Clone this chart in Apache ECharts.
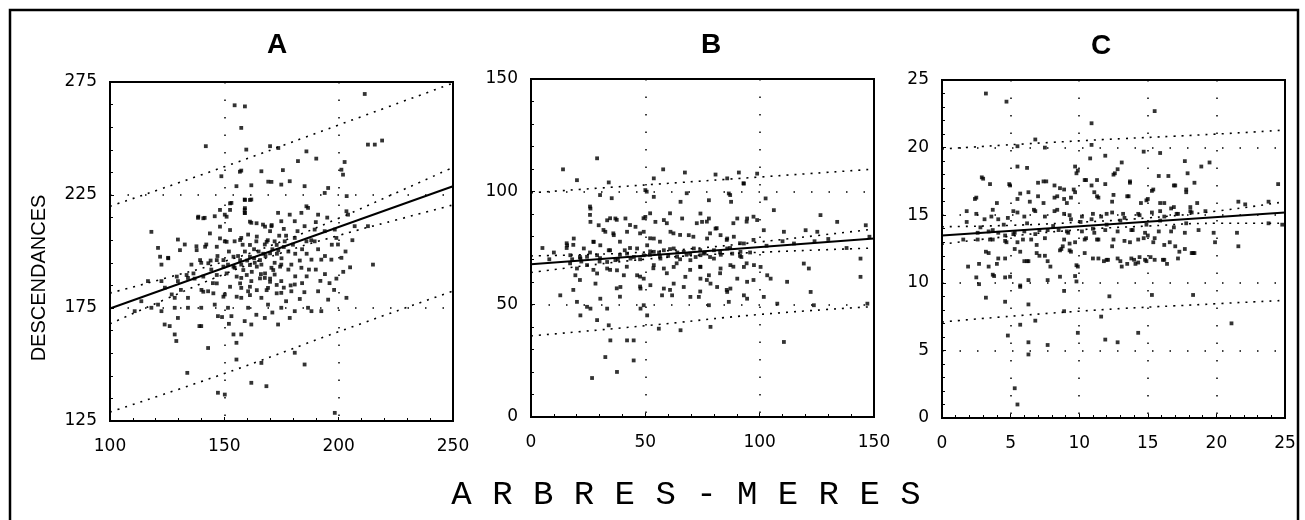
<!DOCTYPE html>
<html>
<head>
<meta charset="utf-8">
<script src="https://cdn.jsdelivr.net/npm/echarts@6/dist/echarts.min.js"></script>
<style>html,body{margin:0;padding:0;background:#fff;}#c{width:1305px;height:520px;}</style>
</head>
<body>
<div id="c"></div>
<script>
// ---------- Panel titles / axis names ----------
const panelTitles = ['A', 'B', 'C'];
const yAxisName = 'DESCENDANCES';
const xAxisName = 'A R B R E S - M E R E S';

// ---------- Axis tick values ----------
const aXTicks = [100, 150, 200, 250];
const aYTicks = [125, 175, 225, 275];
const bXTicks = [0, 50, 100, 150];
const bYTicks = [0, 50, 100, 150];
const cXTicks = [0, 5, 10, 15, 20, 25];
const cYTicks = [0, 5, 10, 15, 20, 25];

// ---------- Panel A ----------
const aPoints = [
[154.5,264.7],[159,264.2],[157.4,254.7],[211.4,269.7],[141.9,246.6],[159.6,245.1],[170,246.6],[173.6,245.8],[185.9,244.3],[182.2,240],[190.2,241.1],[212.8,247.3],[215.8,247.3],[219,249.1],[202.6,239.6],[201.2,236.2],[201.9,234],[157.4,235.8],[166.2,235.5],[148.7,233.3],[170.6,230.8],[174.9,229.6],[178.6,231.1],[175.6,236],[185.1,228.9],[155.3,228.9],[161.8,229.3],[195.4,228.1],[193.9,225.9],[203.5,224.5],[153.1,221.5],[158.9,223],[161.8,223],[185.9,220],[186.6,219.3],[158.9,218.5],[158.9,217.1],[150.2,216.3],[138.5,214.9],[141.4,214.9],[145.8,215.6],[173.5,217.1],[178.6,216.3],[183.7,217.1],[191,216.3],[203.4,217.8],[204.1,216.3],[118.1,208.7],[129.7,205.3],[121,201.6],[125.4,197.2],[122.5,194.2],[132.7,203.1],[137.8,202.3],[142.1,203.1],[161.8,212.7],[166.9,211.9],[170.6,211.2],[174.9,213.4],[180.8,213.4],[185.1,211.2],[189.5,209.7],[193.9,209],[198.3,209.7],[207,211.2],[212.8,211.2],[150.2,204.5],[154.5,204.5],[157.4,206],[160.4,207.5],[164,204.5],[167.7,203.1],[172,204.5],[176.4,204.5],[180.8,206],[185.9,204.5],[189.5,204.5],[199.7,203.1],[188.1,196.4],[192.4,196.4],[196.8,196.4],[201.2,197.2],[215,194.2],[135.6,194.2],[139.9,195],[144.3,192],[151.6,194.2],[154.5,192.8],[157.4,194.2],[163.3,195],[166.2,194.2],[170.6,192.8],[174.9,194.2],[179.3,194.2],[183.7,192.8],[116.6,186.9],[122.5,186.9],[129.7,186.9],[134.1,188.3],[157.4,188.3],[161.8,186.9],[167.7,188.3],[172,189.8],[174.9,186.9],[180.8,185.4],[157.4,183.9],[160.4,182.4],[169.1,183.9],[174.9,181.7],[179.3,182.4],[191,182.4],[134.1,179.5],[142.9,182.4],[150.2,181],[157.4,179.5],[166.2,179.5],[121,176.5],[128.3,179.5],[113.7,178],[110.8,173.6],[118.1,175.1],[122.5,173.6],[128.3,175.1],[134.1,175.1],[139.9,175.1],[145.8,176.5],[151.6,175.1],[160.4,175.1],[169.1,176.5],[174.9,175.1],[180.8,173.6],[186.6,175.1],[195.4,178.7],[203.4,179.5],[188.1,173.6],[192.4,173.6],[123.9,167.7],[126.1,167],[129.7,170.6],[139.9,167],[147.2,171.4],[153.1,171.4],[158.9,169.2],[161.8,167.7],[167.7,170.6],[173.5,167.7],[178.6,170.6],[128.3,163.3],[129,160.4],[139.1,167],[154,163.3],[157.4,163.3],[155.3,159.6],[142.9,157.3],[155.3,152.2],[166.2,150.7],[180.8,155.2],[185.1,150],[133.8,146.3],[161.8,141.9],[168.4,140.4],[147.2,137.5],[150.2,136.7],[198.3,128.6],
[165,200],[168,198],[171,201],[173,199],[176,202],[163,197],[169,205],[175,197],[178,200],[166,190],[170,188],[162,191],[181,199],[184,201],[159,200],[156,198],[152,200],[147,198],[144,196],[186,189],[190,192],[194,190],[196,186],[199,188],[202,191],[205,193],[145,186],[140,183],[137,188],[131,183],[127,181],[124,184],[149,171],[152,168],[164,172],[171,173],[177,178],[183,179],
[156.8,235.3],[169.2,230.9],[152.5,221.3],[159,222.8],[161.2,222.8],[152.5,218.4],[148.1,218.4],[151,215.4],[159,219.2],[159,217],[140.8,214.7],[138.6,215.4],[161.2,213.2],[164.1,212.5],[167.8,211],[170.7,211.7],
[152.5,209.5],[148.1,211],[143.7,208],[148.1,205.8],[164.2,206.6],[168.5,204.3],[172.9,202.9],[161.2,202.9],[156.9,205.1],[151,204.3],[146.7,202.1],[141.6,202.1],[137.9,200.6],[130.6,200.6],[125.5,197],[121.9,197.7],[139.4,196.2],[143,194.8],[146.7,196.2],[149.6,196.2],[154,197.7],[156.9,196.2],[161.2,197.7],[165.6,196.2],[170,199.2],[173.6,200.6],[149.6,193.3],[154,193.3],[158.3,191.8],[161.2,194],[164.2,193.3],[167.8,190.3],[171.4,191.8],[174.4,193.3],[140.8,188.9],[146.7,189.6],[151,190.3],[155.4,188.9],[159.8,189.6],[165.6,188.1],[170,186.6],[172.9,185.2],[129.2,188.9],[133.5,189.6],[136.5,190.3],[146.7,185.9],[152.5,184.4],[156.9,185.9],[161.2,184.4],[164.2,182.9],[168.5,182.9],[172.9,181.5],[140.8,182.2],[145.2,181.5],[149.6,180],[155.4,180],[161.2,180.7],
[177,207],[180,203],[183,196],[186,199],[188,205],[191,201],[194,198],[197,203],[178,192],[181,189],[184,186],[187,192],[176,210],[182,209],[190,213],[195,215],[199,206],[203,200],[206,205],[179,185],[185,182],[192,187],[198,183],[176,184],[172,195],[167,199],[163,201],[160,196],[158,203],[174,207],[170,209]
];
const aReg   = [[100,174.8],[250,228.9]];
const aConfU = [[100,181.6],[125,188.4],[150,195.6],[175,204.4],[200,214.7],[225,225.9],[250,237.2]];
const aConfL = [[100,168.0],[125,179.2],[150,190.0],[175,199.4],[200,207.1],[225,213.9],[250,220.6]];
const aPredU = [[100,220],[150,237.5],[200,256],[250,274.5]];
const aPredL = [[100,129],[150,146],[200,164.5],[250,182.5]];

// ---------- Panel B ----------
const bPoints = [
[28.9,114.8],[14,109.9],[20.1,105.1],[34,104.1],[57.8,109.9],[67.3,108.5],[80.7,107.6],[90.9,108.5],[85.8,105.9],[93.1,103.6],[98.9,108],[53.7,105.9],[50,100.7],[53.7,97.7],[65.4,95.5],[77.8,96.2],[86.5,99.2],[87.5,95.5],[102.6,97],[106.2,91.8],[26,92.5],[26,86.6],
[29.6,85.1],[33.3,87.3],[36.9,88.1],[41.3,88.1],[32.5,82.2],[36.2,80.7],[42,82.2],[50,88.8],[54.4,86.6],[58.1,87.4],[66.1,88.1],[45.7,84.4],[49.3,82.2],[53.7,79.2],[61,82.2],[74.1,90.3],[74.8,86.6],[77.8,88.1],[80.7,83.6],[85.8,79.2],[88.7,80],[93.1,77],[90.2,88.1],[94.5,88.1],[98.9,87.4],[101.8,82.9],[69,80.7],[77,79.2],[82.9,80.7],[126.6,89.6],[133.9,86.6],[146.4,85.1],[120.1,82.9],[125.2,82.2],[110.6,82.2],
[15.8,76.2],[18.7,79.2],[23.1,74.8],[27.4,77.7],[30.3,76.2],[34,74],[17.2,71.8],[21.6,70.3],[24.5,71.1],[28.9,71.8],[33.3,68.8],[36.9,69.6],[42,72.5],[46.4,74.8],[50.8,76.2],[53.7,73.3],[58.1,74],[62.4,74.8],[66.8,73.3],[71.2,74.8],[75.6,72.5],[80,74],[85.8,74.8],[91.6,73.3],[43.5,70.3],[49.3,71.8],[56.6,70.3],[63.9,71.1],[69.7,69.6],[74.1,71.8],[80,70.3],
[20.1,65.9],[24.5,67.4],[28.9,63.7],[33.3,65.9],[37.6,65.1],[40.6,62.9],[46.4,62.9],[49.3,61.4],[53.7,67.4],[58.1,65.9],[62.4,66.6],[67.5,62.2],[74.1,66.6],[77.8,62.9],[82.9,65.9],[87.2,67.4],[93.1,66.6],[97.5,67.4],[100.4,66.6],[104.8,61.4],[119.3,68.1],[121.5,65.9],[144.1,70.3],[144.1,62.2],
[19.4,62.9],[28.2,59.2],[39.1,57.7],[47.9,57],[52.2,58.5],[58.1,57],[62.4,59.2],[66.8,57.7],[74.1,61.4],[78.5,59.2],[81.4,57.7],[85.8,55.5],[90.2,61.4],[94.5,60],[103.3,62.9],[112,60],
[12.8,54],[20.1,51.1],[24.5,48.9],[30.3,52.5],[33.3,48.1],[21.6,45.1],[26,48.1],[28.9,43],[34,40.7],[34.7,34],[42,34],[44.9,34],[44.9,25.1],[32.5,26.6],[26.7,17.3],[37.6,20],[47.9,48.1],[49.3,49.6],[50.8,45.1],[57.3,54],[61.7,54],[69.7,53.3],[73.4,53.3],[77.8,49.6],[86.5,51.1],[87.2,57],[93.1,54],[94.5,52.5],[101.8,53.3],[55.9,39.2],[65.4,38.5],[78.5,40],[110.6,33.3],[122.3,55.5],[123.7,49.6],[107.7,50.3],[147.1,50.3],
[45,71],[52,72],[56,73],[60,71.5],[64,73],[68,72],[72,71],[76,73],[83,72],[88,72.5],[92,71],[38,70],[41,74],[30,69],[22,69],[18,70],[10,73],[8,70],[5,75],[103,76],[110,78],[115,77],[124,78],[130,79],[138,75],[148,80],
[30.2,98.5],[50.6,100],[68.1,99.3],[87.1,98.5],[92.9,103.7],[35.3,97.1],[25.8,93.4],[25.8,89.7],[34.6,88.2],[37.5,87.5],[43.3,85.2],[31.7,83],[36,81.5],[49.2,88.2],[52.1,90.4],[60.8,90.4],[59.4,86],[65.2,80.8],[72.5,86],[76.9,86.7],[81.2,83.8],[88.5,86],[97.3,88.9],[94.3,86.7],
[38.9,77.8],[47.7,81.5],[52.1,79.3],[56.4,77.8],[62.3,81.5],[71,80],[78.3,81.5],[85.6,78.6],[91.4,77.1],[97.3,78.6],[15.6,77.1],[18.5,76.4],[27.3,77.8],
[15.6,75],[21.4,71],[25.8,73],[30.2,70.5],[34.6,74],[38.9,72],[43.3,75],[47.7,70],[52.1,73.5],[56.4,71.5],[60.8,74.5],[65.2,70],[69.6,72.5],[74,74],[78.3,71],[82.7,73],[87.1,75],[91.4,71.5],[95.8,73],
[17.1,68.2],[27.3,65.3],[34.6,65.3],[41.9,66.7],[47.7,62.3],[53.5,66],[59.4,63.8],[63.7,68.2],[69.6,65.3],[74,66.7],[76.9,60.8],[82.7,63.8],[88.5,66.7],[94.3,68.2],[97.3,60.8],[21.4,60.8],
[18.5,56.4],[37.5,57.1],[47.7,57.9],[60.8,56.4],[74,55.7],[85.6,56.4],[38.9,53.4]
];
const bReg   = [[0,67.8],[150,79.2]];
const bConfU = [[0,71.5],[25,72.1],[50,73.2],[75,75.1],[100,77.7],[125,80.5],[150,83.4]];
const bConfL = [[0,64.1],[25,67.3],[50,70.0],[75,71.9],[100,73.1],[125,74.1],[150,75.0]];
const bPredU = [[0,99.5],[50,103],[100,106.5],[150,110]];
const bPredL = [[0,36],[50,40.5],[100,45.5],[150,49]];

// ---------- Panel C ----------
const cPoints = [
[3.2,24],[4.7,23.4],[10.9,21.8],[15.5,22.7],[6.8,20.6],[10.9,20.2],[7.5,20],[5.5,20.1],[14.7,19.7],[15.9,19.6],[17.7,19],[19.5,18.9],[18.9,18.6],[10.8,19.2],[11.9,19.4],[13.1,18.9],[12.6,18.1],[12.8,18.4],[9.7,18.6],[9.9,18.3],[10.4,17.6],[13.7,17.4],[15.8,17.9],[16.5,17.9],[17.9,18.1],[18.4,17.4],[17,17.2],[15.3,16.8],[17.8,16.7],[24.5,17.3],
[2.9,17.8],[3.5,17.3],[4.9,17.3],[5.5,18.6],[6.2,18.5],[7,17.4],[7.6,17.5],[8.2,17.2],[8.9,16.9],[9.7,16.7],[10.9,17.2],[11.1,16.7],[11.4,16.3],[11.9,17.3],[2.5,16.3],[4,15.9],[5.5,16.2],[6.3,16.7],[7,16.4],[8.2,16.3],[8.9,16.2],[9.4,16.3],[12.4,16],[13.6,16.4],[14.5,15.9],[15,16.2],[16.2,15.9],[16.7,15.5],[21.6,16],[22.1,15.8],[23.8,16],
[3.1,14.7],[3.6,14.9],[4.1,14.7],[4.8,14.8],[5.5,15.2],[6,14.9],[6.8,15.3],[7.5,14.9],[8.2,15.3],[8.9,15.1],[9.4,14.7],[10.2,14.9],[10.9,14.7],[11.6,14.9],[12.4,15.2],[13.3,14.8],[14.3,15.1],[15.3,15.2],[16.2,14.9],[17.2,15.1],[18.2,15.2],[19.2,15.3],
[2.6,13.7],[3.4,13.8],[4.1,13.7],[4.6,13.5],[5.3,13.7],[6,13.8],[6.8,13.6],[7.7,13.9],[8.5,13.9],[9.2,13.7],[10.2,13.8],[11.1,13.7],[11.9,13.9],[12.8,13.8],[13.8,13.9],[14.8,13.7],[15.8,13.8],[16.7,13.8],[17.7,13.7],[18.7,13.9],
[2.6,13.2],[3.5,13.2],[4.6,13.1],[5.5,13],[6.5,13.2],[7.5,13.3],[8.9,13.2],[9.7,13],[10.4,13.2],[11.4,13.2],[12.4,12.7],[13.3,13.1],[14.3,13.2],[15,13.5],[15.5,13.3],[16.2,12.8],[17,12.7],[17.7,12.5],[18.4,12.2],
[19.8,13.7],[21.5,13.7],[21.6,12.7],[23.8,14.4],[24.8,14.3],[19.9,13],
[3.4,12.2],[4.6,11.8],[5.3,12.5],[6,11.6],[6.9,12.2],[7.5,12],[8.7,12.5],[9.4,12.3],[10.4,12.2],[11.4,11.8],[12.1,11.7],[12.8,11.8],[13.8,11.8],[14.3,11.5],[14.8,11.7],[15.5,11.7],[16.2,11.7],[17.2,11.8],[18.2,12.2],
[1.9,11.2],[2.7,11.4],[3.4,11.2],[4.1,11.8],[6.3,11.6],[7.7,11.6],[9.9,11.2],[13.1,11.2],[14.1,11.4],
[2.5,10.4],[2.7,9.9],[3.8,10.5],[4.6,10.4],[5.7,9.7],[6.3,10.2],[7.7,10.2],[8.9,9.4],[9.7,10.5],
[3.2,8.9],[4.6,8.6],[6.3,8.4],[6.8,7.2],[8.9,7.9],[11.6,7.5],[12.2,9],[15.3,9.1],[18.3,9.1],[21.1,7],
[9.9,6.3],[11.9,5.8],[12.8,5.6],[14.3,6.3],[6.3,5.6],[7.7,5.4],[6.3,4.7],[5.7,6.9],[4.8,6.1],[5.3,2.2],[5.5,1],
[3,17.7],[4.96,17.2],[7.4,17.5],[8.6,17],[9.8,18.1],[10.5,17.6],[11.3,17.6],[12.5,18],[13.7,17.5],[15.4,16.9],[16.9,17.2],[17.8,16.9],
[2.4,16.2],[5.7,16.6],[6.4,16],[7.4,15.9],[8.4,16.4],[9.1,15.9],[9.6,16.9],[11.3,16.4],[12.5,16.5],[13.5,16.4],[14.9,16.1],[15.9,15.9],[16.9,15.6],[18.1,15.6],[18.6,15.9],
[1.8,15.3],[2.5,15.1],[3.7,15.4],[5.2,15.3],[6.7,15.4],[8.4,15.4],[9.3,15],[11,15.1],[12,15.1],[13.2,15.1],[14.4,15],[15.9,15.3],[17.1,15.1],[18.1,15.3],
[1.8,14.5],[2.8,14.1],[3.7,13.9],[4.5,14.3],[5.2,13.6],[6.2,14.4],[7.1,13.9],[8.1,14.2],[9.1,13.8],[10.1,14.5],[11,14],[12,14.3],[13,14.6],[13.9,13.9],[14.9,14.3],[15.9,14.6],[16.9,14.1],[17.8,14.4],
[1.55,13.2],[3.7,13.2],[4.7,13],[5.9,13.2],[6.9,12.8],[8.8,12.7],[9.3,12.9],[10.5,13.3],[11.3,13.2],[12.5,13.2],[13.7,13],[14.7,13.3],[15.4,13],[16.6,13],
[3.2,12.3],[5.7,12.3],[7.1,12],[8.6,12.4],[9.3,12.4],[11,11.8],[12,11.7],[13,11.6],[14,11.7],[14.4,11.9],[15.2,11.9],[16.1,11.7],[17.3,12.3],[18.3,12.2],
[4,11.4],[6.2,11.6],[7.9,11.2],[9.8,11.3],[11.8,11.6],[13.5,11.4],[14.9,11.6],[16.4,11.4],[3.7,10.6],[4.96,10.45],[5.7,9.8],[8.6,10.45],[9.8,10.1]
];
const cReg   = [[0,13.5],[25,15.2]];
const cConfU = [[0,14.15],[5,14.25],[10,14.48],[15,14.8],[20,15.3],[25,16.0]];
const cConfL = [[0,12.85],[5,13.45],[10,13.92],[15,14.2],[20,14.4],[25,14.4]];
const cPredU = [[0,19.9],[10,20.5],[20,21.0],[25,21.3]];
const cPredL = [[0,7.1],[10,7.9],[20,8.45],[25,8.7]];

// ---------- build option ----------
const grids = [
  {left:110, top:82, width:343, height:339},
  {left:531, top:79, width:343, height:338},
  {left:942, top:80, width:343, height:338}
];
const xt = [aXTicks, bXTicks, cXTicks];
const yt = [aYTicks, bYTicks, cYTicks];
const labelFont = {color:'#000', fontFamily:'DejaVu Sans', fontSize:17};
const dotted = {color:'#000', width:1.5, type:[1.5, 16]};

function mkAxis(ticks, i, isX) {
  return {
    type:'value', gridIndex:i,
    min:ticks[0], max:ticks[ticks.length-1], interval:ticks[1]-ticks[0],
    axisLine:{show:false},
    axisTick:{show:true, inside:true, length:4, lineStyle:{color:'#000', width:1}},
    minorTick:{show:true, splitNumber:5, length:3, lineStyle:{color:'#000', width:1}},
    splitLine:{show:true, lineStyle:dotted},
    axisLabel:Object.assign({margin: isX ? 17 : 13}, labelFont)
  };
}

const panels = [
  [aPoints, aReg, aConfU, aConfL, aPredU, aPredL],
  [bPoints, bReg, bConfU, bConfL, bPredU, bPredL],
  [cPoints, cReg, cConfU, cConfL, cPredU, cPredL]
];
const series = [];
panels.forEach((p, i) => {
  series.push({type:'scatter', xAxisIndex:i, yAxisIndex:i, data:p[0], symbol:'rect', symbolSize:3.8,
    itemStyle:{color:'#000'}, silent:true, z:3});
  series.push({type:'line', xAxisIndex:i, yAxisIndex:i, data:p[1], showSymbol:false, silent:true,
    lineStyle:{color:'#000', width:2}, z:4});
  [p[2], p[3], p[4], p[5]].forEach(d => {
    series.push({type:'line', xAxisIndex:i, yAxisIndex:i, data:d, showSymbol:false, smooth:true, silent:true,
      lineStyle:{color:'#000', width:1.6, type:[2, 6]}, z:4});
  });
});

const titlePos = [[277, 45], [711, 45], [1101, 46]];
const graphic = [
  {type:'rect', shape:{x:10, y:10, width:1288, height:540}, style:{fill:'none', stroke:'#000', lineWidth:2.5}},
  {type:'text', x:39, y:278, rotation:Math.PI/2,
    style:{text:yAxisName, fill:'#000', font:'20px "Liberation Sans"', textAlign:'center', textVerticalAlign:'middle'}},
  {type:'text', x:686, y:495,
    style:{text:xAxisName, fill:'#000', font:'34px "Liberation Mono"', textAlign:'center', textVerticalAlign:'middle'}}
];
panelTitles.forEach((t, i) => {
  graphic.push({type:'text', x:titlePos[i][0], y:titlePos[i][1],
    style:{text:t, fill:'#000', font:'bold 28px "Liberation Sans"', textAlign:'center', textVerticalAlign:'middle'}});
});

const option = {
  backgroundColor:'#fff',
  animation:false,
  grid: grids.map(g => Object.assign({show:true, borderColor:'#000', borderWidth:2, backgroundColor:'transparent'}, g)),
  xAxis: xt.map((t, i) => mkAxis(t, i, true)),
  yAxis: yt.map((t, i) => mkAxis(t, i, false)),
  series: series,
  graphic: graphic
};
const chart = echarts.init(document.getElementById('c'), null, {renderer:'canvas'});
chart.setOption(option);
</script>
</body>
</html>
